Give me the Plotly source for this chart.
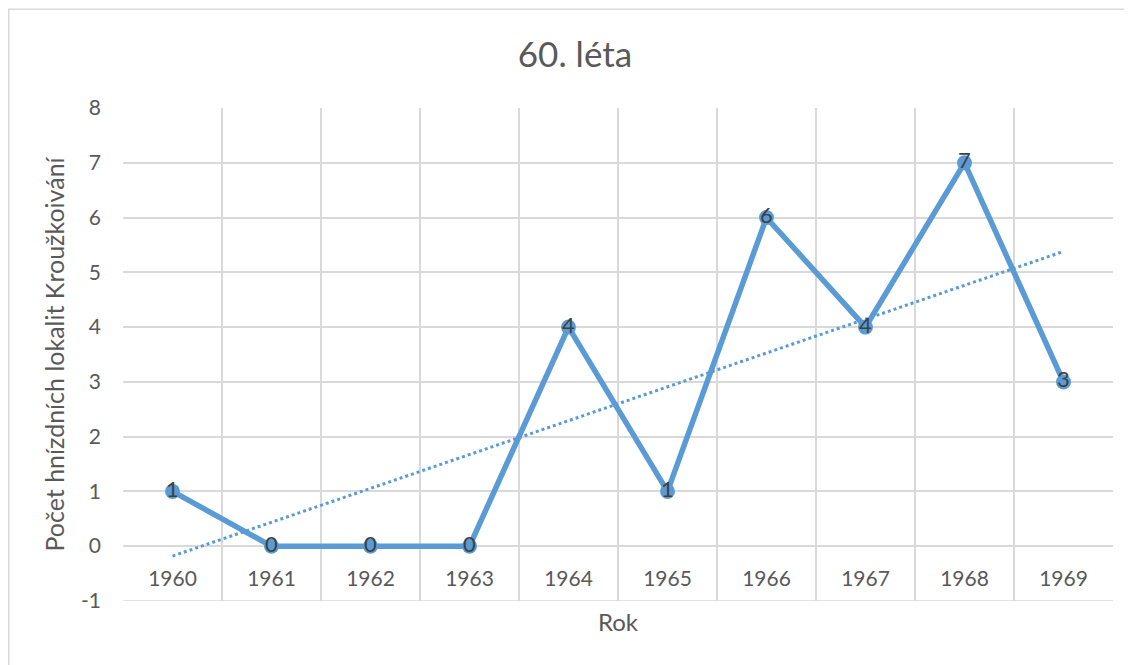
import numpy as np
import plotly.graph_objects as go

years = ["1960", "1961", "1962", "1963", "1964", "1965", "1966", "1967", "1968", "1969"]
values = [1, 0, 0, 0, 4, 1, 6, 4, 7, 3]
y_ticks = [-1, 0, 1, 2, 3, 4, 5, 6, 7, 8]
title_text = "60. léta"
x_title = "Rok"
y_title = "Počet hnízdních lokalit Kroužkoivání"

BLUE = "#5B9BD5"
GRID = "#D9D9D9"
TXT = "#595959"
FONT = "Lato, Open Sans, sans-serif"

x = np.arange(len(years))
slope, intercept = np.polyfit(x, values, 1)
trend = slope * x + intercept

y_min, y_max = y_ticks[0], y_ticks[-1]

W, H = 1124, 657
L, R, T, B = 115, 19, 100, 64
pw, ph = W - L - R, H - T - B

fig = go.Figure()
fig.add_trace(go.Scatter(
    x=x, y=trend, mode="lines",
    line=dict(color=BLUE, width=3, dash="dot"),
    hoverinfo="skip", showlegend=False,
))
fig.add_trace(go.Scatter(
    x=x, y=values, mode="lines+markers+text",
    line=dict(color=BLUE, width=5.5),
    marker=dict(color=BLUE, size=15, symbol="circle"),
    text=[str(v) for v in values], textposition="middle center",
    textfont=dict(family=FONT, size=22, color="#404040"),
    showlegend=False,
))

fig.update_layout(
    width=W, height=H,
    margin=dict(l=L, r=R, t=T, b=B, autoexpand=False),
    paper_bgcolor="white", plot_bgcolor="white",
    font=dict(family=FONT, color=TXT),
    title=dict(text=title_text, font=dict(size=35, color=TXT, family=FONT),
               xref="container", x=567 / W, xanchor="center",
               yref="container", y=1 - 47 / H, yanchor="middle"),
    shapes=[
        dict(type="rect", xref="paper", yref="paper",
             x0=(0.75 - L) / pw, x1=1.2, y0=-0.5, y1=(H - B - 1.25) / ph,
             line=dict(color=GRID, width=1.5), fillcolor="rgba(0,0,0,0)", layer="below"),
        dict(type="line", xref="paper", yref="y", x0=0, x1=1, y0=y_min, y1=y_min,
             line=dict(color=GRID, width=1.5), layer="below"),
    ],
)

fig.update_xaxes(
    range=[-0.5, len(years) - 0.5],
    tickmode="array", tickvals=x, ticktext=years,
    tickfont=dict(size=21, color=TXT, family=FONT),
    showgrid=False, zeroline=False, showline=False, ticks="", ticklabelstandoff=18,
    anchor="free", position=(0 - y_min) / (y_max - y_min),
    minor=dict(tickmode="array", tickvals=list(np.arange(-0.5, len(years), 1.0)),
               showgrid=True, gridcolor=GRID, gridwidth=1.5, ticks=""),
    title=dict(text=x_title, font=dict(size=24, color=TXT, family=FONT), standoff=24),
)
fig.update_yaxes(
    range=[y_min - 0.002, y_max + 0.002],
    tickmode="array", tickvals=y_ticks, ticktext=[str(v) for v in y_ticks],
    tickfont=dict(size=21, color=TXT, family=FONT),
    showgrid=True, gridcolor=GRID, gridwidth=1.5,
    zeroline=False, showline=False, ticks="", ticklabelstandoff=21,
    title=dict(text=y_title, font=dict(size=25, color=TXT, family=FONT), standoff=9),
)

fig.write_html("out.html")
